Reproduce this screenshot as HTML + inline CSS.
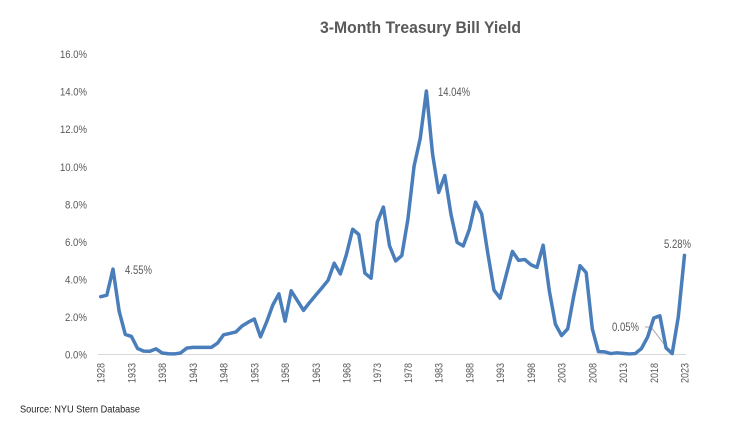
<!DOCTYPE html>
<html>
<head>
<meta charset="utf-8">
<style>
html,body{margin:0;padding:0;background:#fff;}
svg{display:block;}
text{font-family:"Liberation Sans",Arial,sans-serif;}
</style>
</head>
<body>
<svg width="741" height="428" viewBox="0 0 741 428" xmlns="http://www.w3.org/2000/svg">
<rect width="741" height="428" fill="#fff"/>
<text x="320" y="33" font-size="17" font-weight="bold" fill="#595959" textLength="201" lengthAdjust="spacingAndGlyphs">3-Month Treasury Bill Yield</text>

<g font-size="11" fill="#595959" text-anchor="end">
<text x="87" y="358.5" textLength="22" lengthAdjust="spacingAndGlyphs">0.0%</text>
<text x="87" y="321" textLength="22" lengthAdjust="spacingAndGlyphs">2.0%</text>
<text x="87" y="283.4" textLength="22" lengthAdjust="spacingAndGlyphs">4.0%</text>
<text x="87" y="245.9" textLength="22" lengthAdjust="spacingAndGlyphs">6.0%</text>
<text x="87" y="208.3" textLength="22" lengthAdjust="spacingAndGlyphs">8.0%</text>
<text x="87" y="170.8" textLength="27" lengthAdjust="spacingAndGlyphs">10.0%</text>
<text x="87" y="133.2" textLength="27" lengthAdjust="spacingAndGlyphs">12.0%</text>
<text x="87" y="95.6" textLength="27" lengthAdjust="spacingAndGlyphs">14.0%</text>
<text x="87" y="58" textLength="27" lengthAdjust="spacingAndGlyphs">16.0%</text>
</g>

<line x1="98" y1="354.5" x2="686" y2="354.5" stroke="#d9d9d9" stroke-width="1"/>

<g font-size="11" fill="#595959" text-anchor="end">
<text transform="translate(104.7,363) rotate(-90)" textLength="20" lengthAdjust="spacingAndGlyphs">1928</text>
<text transform="translate(135.4,363) rotate(-90)" textLength="20" lengthAdjust="spacingAndGlyphs">1933</text>
<text transform="translate(166.1,363) rotate(-90)" textLength="20" lengthAdjust="spacingAndGlyphs">1938</text>
<text transform="translate(196.9,363) rotate(-90)" textLength="20" lengthAdjust="spacingAndGlyphs">1943</text>
<text transform="translate(227.6,363) rotate(-90)" textLength="20" lengthAdjust="spacingAndGlyphs">1948</text>
<text transform="translate(258.3,363) rotate(-90)" textLength="20" lengthAdjust="spacingAndGlyphs">1953</text>
<text transform="translate(289.1,363) rotate(-90)" textLength="20" lengthAdjust="spacingAndGlyphs">1958</text>
<text transform="translate(319.8,363) rotate(-90)" textLength="20" lengthAdjust="spacingAndGlyphs">1963</text>
<text transform="translate(350.5,363) rotate(-90)" textLength="20" lengthAdjust="spacingAndGlyphs">1968</text>
<text transform="translate(381.2,363) rotate(-90)" textLength="20" lengthAdjust="spacingAndGlyphs">1973</text>
<text transform="translate(412.0,363) rotate(-90)" textLength="20" lengthAdjust="spacingAndGlyphs">1978</text>
<text transform="translate(442.7,363) rotate(-90)" textLength="20" lengthAdjust="spacingAndGlyphs">1983</text>
<text transform="translate(473.4,363) rotate(-90)" textLength="20" lengthAdjust="spacingAndGlyphs">1988</text>
<text transform="translate(504.1,363) rotate(-90)" textLength="20" lengthAdjust="spacingAndGlyphs">1993</text>
<text transform="translate(534.9,363) rotate(-90)" textLength="20" lengthAdjust="spacingAndGlyphs">1998</text>
<text transform="translate(565.6,363) rotate(-90)" textLength="20" lengthAdjust="spacingAndGlyphs">2003</text>
<text transform="translate(596.3,363) rotate(-90)" textLength="20" lengthAdjust="spacingAndGlyphs">2008</text>
<text transform="translate(627.1,363) rotate(-90)" textLength="20" lengthAdjust="spacingAndGlyphs">2013</text>
<text transform="translate(657.8,363) rotate(-90)" textLength="20" lengthAdjust="spacingAndGlyphs">2018</text>
<text transform="translate(688.5,363) rotate(-90)" textLength="20" lengthAdjust="spacingAndGlyphs">2023</text>
</g>

<polyline points="645,327 651,327 670,352" fill="none" stroke="#a6a6a6" stroke-width="1"/>

<g transform="translate(100.7,354.5) scale(6.145,-18.78)">
<polyline fill="none" stroke="#4a7ebb" stroke-width="3.5" stroke-linejoin="round" stroke-linecap="round" vector-effect="non-scaling-stroke"
points="0,3.08 1,3.16 2,4.55 3,2.31 4,1.07 5,0.96 6,0.32 7,0.18 8,0.17 9,0.30 10,0.08 11,0.04 12,0.03 13,0.08 14,0.34 15,0.38 16,0.38 17,0.38 18,0.38 19,0.60 20,1.05 21,1.12 22,1.20 23,1.52 24,1.72 25,1.89 26,0.94 27,1.73 28,2.63 29,3.23 30,1.77 31,3.39 32,2.87 33,2.35 34,2.77 35,3.16 36,3.55 37,3.95 38,4.86 39,4.29 40,5.34 41,6.67 42,6.39 43,4.33 44,4.06 45,7.04 46,7.85 47,5.79 48,4.98 49,5.27 50,7.22 51,10.04 52,11.51 53,14.03 54,10.69 55,8.63 56,9.53 57,7.47 58,5.97 59,5.78 60,6.67 61,8.11 62,7.49 63,5.38 64,3.43 65,3.00 66,4.25 67,5.49 68,5.01 69,5.06 70,4.78 71,4.64 72,5.82 73,3.40 74,1.61 75,1.01 76,1.37 77,3.15 78,4.73 79,4.36 80,1.37 81,0.15 82,0.14 83,0.05 84,0.09 85,0.06 86,0.03 87,0.05 88,0.32 89,0.93 90,1.94 91,2.06 92,0.35 93,0.05 94,2.02 95,5.28"/>
</g>

<g font-size="12" fill="#595959">
<text x="125" y="274" textLength="27" lengthAdjust="spacingAndGlyphs">4.55%</text>
<text x="438" y="96" textLength="32" lengthAdjust="spacingAndGlyphs">14.04%</text>
<text x="664" y="248" textLength="27" lengthAdjust="spacingAndGlyphs">5.28%</text>
<text x="612" y="331" textLength="27" lengthAdjust="spacingAndGlyphs">0.05%</text>
</g>

<text x="20" y="412.5" font-size="10" fill="#222" textLength="120" lengthAdjust="spacingAndGlyphs">Source: NYU Stern Database</text>
</svg>
</body>
</html>
